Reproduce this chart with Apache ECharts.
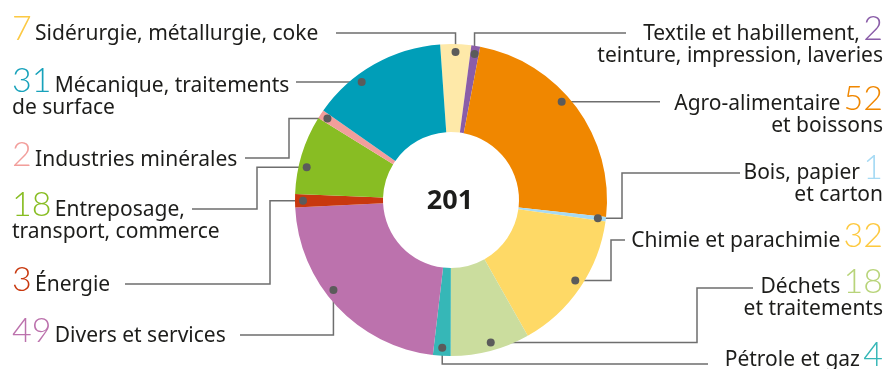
<!DOCTYPE html>
<html>
<head>
<meta charset="utf-8">
<script src="https://cdn.jsdelivr.net/npm/echarts@6/dist/echarts.min.js"></script>
<style>
  html, body { margin: 0; padding: 0; background: #fff; }
  #chart { width: 889px; height: 369px; }
</style>
</head>
<body>
<div id="chart"></div>
<script>
// données, dans l'ordre horaire à partir du haut
var names = [
  'Sidérurgie, métallurgie, coke',
  'Textile et habillement,\nteinture, impression, laveries',
  'Agro-alimentaire\net boissons',
  'Bois, papier\net carton',
  'Chimie et parachimie',
  'Déchets\net traitements',
  'Pétrole et gaz',
  'Divers et services',
  'Énergie',
  'Entreposage,\ntransport, commerce',
  'Industries minérales',
  'Mécanique, traitements\nde surface'
];
var values = [7, 2, 52, 1, 32, 18, 4, 49, 3, 18, 2, 31];
var totalLabel = '201';

var sliceColors = ['#fee9a9', '#8a5da8', '#f08700', '#a6daf4', '#fed966', '#cbdd9e',
                   '#36b7b7', '#bc72ad', '#c8380e', '#88bd23', '#f29e9b', '#009eb8'];
var numColors = ['#fcc944', '#8a5da8', '#f08700', '#a6daf4', '#fdc940', '#b8d47a',
                 '#36b7b7', '#bc72ad', '#c8380e', '#88bd23', '#f29e9b', '#17a2bb'];

// position des étiquettes et tracé des lignes de rappel
// side, baseline de la 1re ligne, départ de la ligne (x, y), coude x, type de tracé, position du point dans la part
var leaders = [
  { side: 'L', base: 39,  lx: 336, ly: 33,  route: 'HV',  f: 0.5 },
  { side: 'R', base: 39,  lx: 626, ly: 33,  route: 'HV',  f: 0.5 },
  { side: 'R', base: 109, lx: 660, route: 'H',  f: 0.44 },
  { side: 'R', base: 178, lx: 740, ly: 173, ex: 622, route: 'HVH', f: 0.5 },
  { side: 'R', base: 246, lx: 625, ly: 240, ex: 611, route: 'HVH', f: 0.475 },
  { side: 'R', base: 292, lx: 753, ly: 288, ex: 697, route: 'HVH', f: 0.47 },
  { side: 'R', base: 365, lx: 708, ly: 364, route: 'HV',  f: 0.5 },
  { side: 'L', base: 341, lx: 240, ly: 335, route: 'HV',  f: 0.57 },
  { side: 'L', base: 290, lx: 125, ly: 284, ex: 270, route: 'HVH', f: 0.5 },
  { side: 'L', base: 215, lx: 192, ly: 209, ex: 257, route: 'HVH', f: 0.36 },
  { side: 'L', base: 165, lx: 245, ly: 158, ex: 289, route: 'HVH', f: 0.5 },
  { side: 'L', base: 91,  lx: 296, route: 'H',  f: 0.35 }
];

var cx = 451, cy = 200, r0 = 68, r1 = 156, dotR = 148, startAngle = 94;
var leftX = 12, rightX = 883;

var sum = values.reduce(function (a, b) { return a + b; }, 0);

// point sur la part, calculé à partir des valeurs
function dotPos(i) {
  var before = 0;
  for (var k = 0; k < i; k++) before += values[k];
  var theta = (90 - startAngle) + (before + leaders[i].f * values[i]) / sum * 360;
  var t = theta * Math.PI / 180;
  return [cx + dotR * Math.sin(t), cy - dotR * Math.cos(t)];
}

function linePoints(i) {
  var l = leaders[i];
  var d = dotPos(i);
  if (l.route === 'H') return [[l.lx, d[1]], d];
  if (l.route === 'HV') return [[l.lx, l.ly], [d[0], l.ly], d];
  return [[l.lx, l.ly], [l.ex, l.ly], [l.ex, d[1]], d];
}

var rich = {
  t: { fontFamily: 'Noto Sans', fontSize: 21, color: '#1d1d1b', verticalAlign: 'bottom', padding: [0, 0, 1, 0] }
};
numColors.forEach(function (c, i) {
  rich['n' + i] = { fontFamily: 'Lato', fontSize: 34, fontWeight: 300, color: c, verticalAlign: 'bottom' };
});

function labelText(i) {
  var lines = names[i].split('\n');
  var first = leaders[i].side === 'L'
    ? '{n' + i + '|' + values[i] + '} {t|' + lines[0] + '}'
    : '{t|' + lines[0] + '} {n' + i + '|' + values[i] + '}';
  var rest = lines.slice(1).map(function (s) { return '{t|' + s + '}'; });
  return [first].concat(rest).join('\n');
}

var data = names.map(function (n, i) {
  return { name: n, value: values[i], itemStyle: { color: sliceColors[i] } };
});

var graphics = values.map(function (v, i) {
  var d = dotPos(i);
  return { type: 'circle', shape: { cx: d[0], cy: d[1], r: 4 }, style: { fill: '#5b5b5b' }, z: 100 };
});
graphics.push({
  type: 'text', x: cx - 1, y: cy + 1, z: 100,
  style: { text: totalLabel, font: 'bold 27px "Noto Sans"', fill: '#1d1d1b', textAlign: 'center', textVerticalAlign: 'middle' }
});

var chart = echarts.init(document.getElementById('chart'));
chart.setOption({
  animation: false,
  graphic: graphics,
  series: [{
    type: 'pie',
    center: [cx, cy],
    radius: [r0, r1],
    startAngle: startAngle,
    clockwise: true,
    avoidLabelOverlap: false,
    data: data,
    label: {
      show: true,
      position: 'outside',
      formatter: function (p) { return labelText(p.dataIndex); },
      rich: rich
    },
    labelLine: {
      show: true,
      lineStyle: { color: '#6e6e6e', width: 1.5 }
    },
    labelLayout: function (p) {
      var i = p.dataIndex;
      var l = leaders[i];
      return {
        x: l.side === 'L' ? leftX : rightX,
        y: l.base - 27,
        align: l.side === 'L' ? 'left' : 'right',
        verticalAlign: 'top',
        labelLinePoints: linePoints(i)
      };
    },
    emphasis: { disabled: true }
  }]
});
</script>
</body>
</html>
